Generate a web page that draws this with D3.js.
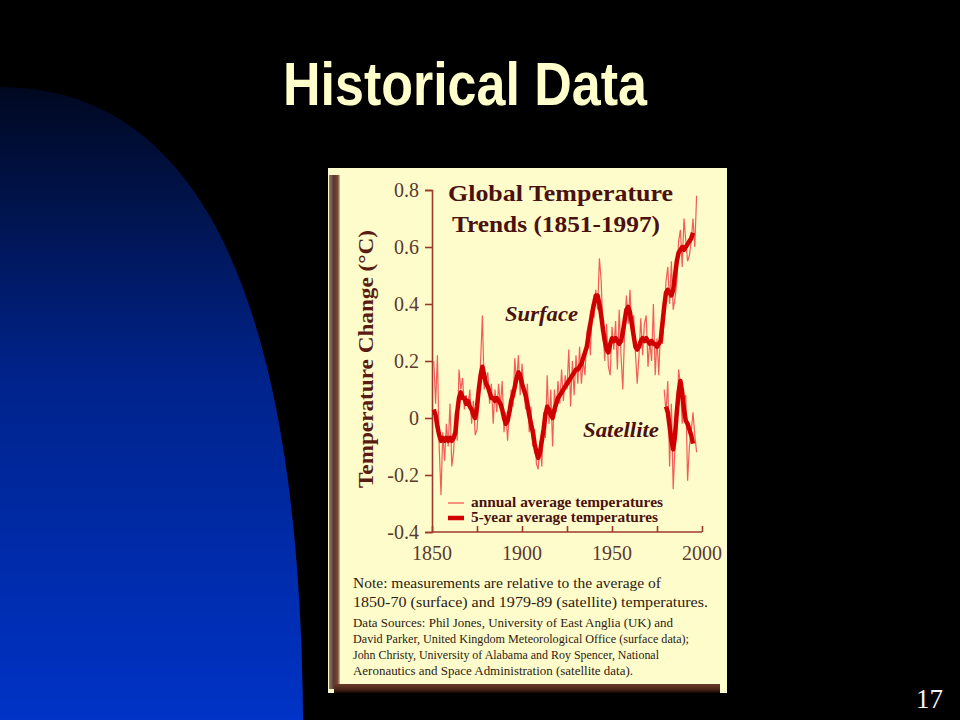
<!DOCTYPE html>
<html>
<head>
<meta charset="utf-8">
<script src="https://cdn.jsdelivr.net/npm/d3@7"></script>
<style>
  html, body { margin: 0; padding: 0; background: #000; }
  svg { display: block; }
</style>
</head>
<body>
<svg id="slide" width="960" height="720"></svg>
<script>
// ---------------- DATA ----------------
const slideTitle = "Historical Data";
const chartTitleLines = ["Global Temperature", "Trends (1851-1997)"];
const yAxisLabel = "Temperature Change (\u00B0C)";
const yTicks = [-0.4, -0.2, 0, 0.2, 0.4, 0.6, 0.8];
const yTickLabels = ["-0.4", "-0.2", "0", "0.2", "0.4", "0.6", "0.8"];
const xTicks = [1850, 1875, 1900, 1925, 1950, 1975, 2000];
const xTickLabels = ["1850", "1900", "1950", "2000"];
const xLabelYears = [1850, 1900, 1950, 2000];
const legendLabels = ["annual average temperatures", "5-year average temperatures"];
const seriesLabels = ["Surface", "Satellite"];
const noteLines = [
  "Note: measurements are relative to the average of",
  "1850-70 (surface) and 1979-89 (satellite) temperatures."
];
const sourceLines = [
  "Data Sources: Phil Jones, University of East Anglia (UK) and",
  "David Parker, United Kingdom Meteorological Office (surface data);",
  "John Christy, University of Alabama and Roy Spencer, National",
  "Aeronautics and Space Administration (satellite data)."
];
const pageNumber = "17";

// Surface, annual average (1851-1997)
const surfaceAnnualYears = d3.range(1851, 1998);
const surfaceAnnual = [
  0.20, 0.05, 0.22, -0.10, -0.27, -0.05, -0.15, -0.02, -0.10, 0.05,   // 1851-1860
  -0.17, -0.12, 0.02, -0.08, 0.17, 0.10, 0.14, 0.03, 0.08, 0.04,      // 1861-1870
  0.10, -0.02, 0.06, -0.06, -0.04, 0.05, 0.20, 0.36, 0.10, 0.13,      // 1871-1880
  0.16, 0.05, 0.12, -0.02, 0.10, 0.02, 0.12, 0.04, 0.13, -0.05,       // 1881-1890
  0.02, -0.08, 0.03, 0.10, 0.04, 0.21, 0.12, 0.22, 0.08, 0.19,        // 1891-1900
  0.10, 0.03, 0.12, -0.05, 0.04, -0.10, -0.04, -0.16, -0.18, -0.08,   // 1901-1910
  -0.17, 0.02, -0.07, 0.15, -0.02, 0.10, -0.10, 0.10, 0.02, 0.13,     // 1911-1920
  0.05, 0.17, 0.06, 0.15, 0.10, 0.24, 0.04, 0.20, 0.08, 0.22,         // 1921-1930
  0.12, 0.25, 0.12, 0.20, 0.15, 0.30, 0.33, 0.22, 0.40, 0.35,         // 1931-1940
  0.45, 0.38, 0.56, 0.48, 0.30, 0.20, 0.33, 0.18, 0.15, 0.32,         // 1941-1950
  0.24, 0.34, 0.17, 0.38, 0.22, 0.10, 0.30, 0.43, 0.33, 0.45,         // 1951-1960
  0.30, 0.36, 0.23, 0.12, 0.22, 0.35, 0.22, 0.33, 0.36, 0.18,         // 1961-1970
  0.27, 0.20, 0.40, 0.15, 0.28, 0.15, 0.33, 0.26, 0.35, 0.48,         // 1971-1980
  0.53, 0.40, 0.55, 0.38, 0.42, 0.48, 0.62, 0.66, 0.53, 0.70,         // 1981-1990
  0.62, 0.55, 0.57, 0.62, 0.70, 0.60, 0.78                            // 1991-1997
];

// Surface, 5-year average (1851-1995)
const surfaceSmoothYears = d3.range(1851, 1996);
const surfaceSmooth = [
  0.03, 0.01, -0.03, -0.06, -0.08, -0.07, -0.08, -0.07, -0.08, -0.07, // 1851-1860
  -0.08, -0.07, -0.05, 0.02, 0.07, 0.09, 0.07, 0.07, 0.05, 0.06,      // 1861-1870
  0.04, 0.03, 0.01, 0.00, 0.04, 0.10, 0.15, 0.18, 0.15, 0.12,         // 1871-1880
  0.11, 0.09, 0.07, 0.07, 0.06, 0.07, 0.06, 0.05, 0.03, 0.00,         // 1881-1890
  -0.02, -0.01, 0.02, 0.06, 0.08, 0.11, 0.14, 0.16, 0.15, 0.12,       // 1891-1900
  0.10, 0.08, 0.05, 0.01, -0.02, -0.05, -0.09, -0.12, -0.14, -0.12,   // 1901-1910
  -0.08, -0.04, 0.01, 0.04, 0.03, 0.01, 0.00, 0.03, 0.05, 0.07,       // 1911-1920
  0.08, 0.09, 0.10, 0.11, 0.12, 0.13, 0.14, 0.15, 0.16, 0.17,         // 1921-1930
  0.17, 0.18, 0.19, 0.21, 0.23, 0.25, 0.29, 0.33, 0.37, 0.40,         // 1931-1940
  0.43, 0.43, 0.40, 0.36, 0.31, 0.27, 0.24, 0.23, 0.26, 0.28,         // 1941-1950
  0.27, 0.28, 0.27, 0.26, 0.27, 0.30, 0.34, 0.38, 0.39, 0.37,         // 1951-1960
  0.33, 0.29, 0.25, 0.24, 0.25, 0.27, 0.28, 0.27, 0.28, 0.27,         // 1961-1970
  0.26, 0.27, 0.26, 0.26, 0.25, 0.26, 0.27, 0.33, 0.39, 0.44,         // 1971-1980
  0.45, 0.44, 0.43, 0.45, 0.50, 0.55, 0.58, 0.59, 0.60, 0.59,         // 1981-1990
  0.60, 0.61, 0.62, 0.63, 0.65                                        // 1991-1995
];

// Satellite, annual average (1979-1997)
const satelliteAnnualYears = d3.range(1979, 1998);
const satelliteAnnual = [
  0.10, 0.02, 0.13, -0.17, 0.05, -0.25, -0.10, -0.05, 0.17, 0.12,
  -0.02, 0.06, 0.08, -0.22, -0.10, -0.05, 0.02, -0.06, -0.12
];

// Satellite, 5-year average (1980-1995)
const satelliteSmoothYears = d3.range(1980, 1996);
const satelliteSmooth = [
  0.04, 0.02, -0.03, -0.08, -0.11, -0.06, 0.02, 0.09, 0.13, 0.09,
  0.03, -0.01, -0.02, -0.04, -0.06, -0.09
];

// ---------------- DRAWING ----------------
const svg = d3.select("#slide");
const defs = svg.append("defs");

// background
svg.append("rect").attr("width", 960).attr("height", 720).attr("fill", "#000");

// blue arc shape
const blueGrad = defs.append("linearGradient").attr("id", "blueGrad")
  .attr("x1", 0).attr("y1", 0).attr("x2", 0).attr("y2", 1);
blueGrad.append("stop").attr("offset", "0%").attr("stop-color", "#000820");
blueGrad.append("stop").attr("offset", "45%").attr("stop-color", "#00238a");
blueGrad.append("stop").attr("offset", "100%").attr("stop-color", "#0033c6");
svg.append("path")
  .attr("d", "M0,87 C200,87 300,300 303,720 L0,720 Z")
  .attr("fill", "url(#blueGrad)");

// title
svg.append("text")
  .attr("x", 283).attr("y", 105)
  .attr("textLength", 364).attr("lengthAdjust", "spacingAndGlyphs")
  .attr("font-family", "'Liberation Sans', Arial, sans-serif")
  .attr("font-weight", "bold").attr("font-size", 61)
  .attr("fill", "#ffffcc")
  .text(slideTitle);

// page number
svg.append("text")
  .attr("x", 943).attr("y", 708).attr("text-anchor", "end")
  .attr("font-family", "'Liberation Serif', 'Times New Roman', serif")
  .attr("font-size", 27).attr("fill", "#f4f4f4")
  .text(pageNumber);

// ---- chart panel ----
const leftShadow = defs.append("linearGradient").attr("id", "leftShadow")
  .attr("x1", 0).attr("y1", 0).attr("x2", 1).attr("y2", 0);
leftShadow.append("stop").attr("offset", "0%").attr("stop-color", "#8a8078");
leftShadow.append("stop").attr("offset", "45%").attr("stop-color", "#5b3428");
leftShadow.append("stop").attr("offset", "80%").attr("stop-color", "#7a4a3a");
leftShadow.append("stop").attr("offset", "100%").attr("stop-color", "#d8c8a0");
const bottomShadow = defs.append("linearGradient").attr("id", "bottomShadow")
  .attr("x1", 0).attr("y1", 0).attr("x2", 0).attr("y2", 1);
bottomShadow.append("stop").attr("offset", "0%").attr("stop-color", "#6a3a2a");
bottomShadow.append("stop").attr("offset", "60%").attr("stop-color", "#4a2418");
bottomShadow.append("stop").attr("offset", "100%").attr("stop-color", "#120604");

svg.append("rect").attr("x", 328).attr("y", 168).attr("width", 399).attr("height", 527)
  .attr("fill", "#fdfcca");
svg.append("rect").attr("x", 329).attr("y", 175).attr("width", 11).attr("height", 514)
  .attr("fill", "url(#leftShadow)");
svg.append("rect").attr("x", 334).attr("y", 684).attr("width", 386).attr("height", 9)
  .attr("fill", "url(#bottomShadow)");
svg.append("rect").attr("x", 328).attr("y", 693).attr("width", 400).attr("height", 3)
  .attr("fill", "#000");

// scales
const x = d3.scaleLinear().domain([1850, 2000]).range([432, 702]);
const y = d3.scaleLinear().domain([-0.4, 0.8]).range([532, 190]);

const axisColor = "#9b3a2c";
const labelColor = "#5a3a30";
const darkText = "#4b1010";
const serif = "'Liberation Serif', 'Times New Roman', Times, serif";

// y axis
const yAxis = d3.axisLeft(y).tickValues(yTicks).tickSize(7)
  .tickFormat((d, i) => yTickLabels[i]);
const gy = svg.append("g").attr("transform", "translate(432,0)").call(yAxis);
gy.select(".domain").attr("stroke", axisColor).attr("stroke-width", 1.6);
gy.selectAll(".tick line").attr("stroke", axisColor).attr("stroke-width", 1.6);
gy.selectAll(".tick text").attr("x", -13).attr("dy", "0.34em")
  .attr("font-family", serif).attr("font-size", 20).attr("fill", labelColor);

// x axis (ticks point upward)
const xAxis = d3.axisTop(x).tickValues(xTicks).tickSize(6).tickFormat("");
const gx = svg.append("g").attr("transform", "translate(0,532)").call(xAxis);
gx.select(".domain").attr("stroke", axisColor).attr("stroke-width", 1.6)
  .attr("d", "M432,0H702");
gx.selectAll(".tick line").attr("stroke", axisColor).attr("stroke-width", 1.6);
svg.append("g").selectAll("text").data(xLabelYears).join("text")
  .attr("x", d => x(d)).attr("y", 560).attr("text-anchor", "middle")
  .attr("font-family", serif).attr("font-size", 20).attr("fill", labelColor)
  .text((d, i) => xTickLabels[i]);

// y axis label
svg.append("text")
  .attr("transform", "translate(373,359) rotate(-90)")
  .attr("text-anchor", "middle")
  .attr("textLength", 258).attr("lengthAdjust", "spacingAndGlyphs")
  .attr("font-family", serif).attr("font-weight", "bold").attr("font-size", 22)
  .attr("fill", "#5a1c12")
  .text(yAxisLabel);

// chart title
svg.append("text").attr("x", 448).attr("y", 201)
  .attr("textLength", 225).attr("lengthAdjust", "spacingAndGlyphs")
  .attr("font-family", serif).attr("font-weight", "bold").attr("font-size", 23)
  .attr("fill", darkText).text(chartTitleLines[0]);
svg.append("text").attr("x", 452).attr("y", 232)
  .attr("textLength", 208).attr("lengthAdjust", "spacingAndGlyphs")
  .attr("font-family", serif).attr("font-weight", "bold").attr("font-size", 23)
  .attr("fill", darkText).text(chartTitleLines[1]);

// lines
const line = d3.line().x(d => x(d[0])).y(d => y(d[1]));
const annualColor = "#f24a4a";
const smoothColor = "#d00000";

function pairs(years, vals) { return years.map((yr, i) => [yr, vals[i]]); }

svg.append("path").datum(pairs(surfaceAnnualYears, surfaceAnnual))
  .attr("d", line).attr("fill", "none")
  .attr("stroke", annualColor).attr("stroke-width", 1.2).attr("stroke-opacity", 0.9);
svg.append("path").datum(pairs(satelliteAnnualYears, satelliteAnnual))
  .attr("d", line).attr("fill", "none")
  .attr("stroke", annualColor).attr("stroke-width", 1.2).attr("stroke-opacity", 0.9);
svg.append("path").datum(pairs(surfaceSmoothYears, surfaceSmooth))
  .attr("d", line).attr("fill", "none")
  .attr("stroke", smoothColor).attr("stroke-width", 4.5).attr("stroke-linejoin", "round");
svg.append("path").datum(pairs(satelliteSmoothYears, satelliteSmooth))
  .attr("d", line).attr("fill", "none")
  .attr("stroke", smoothColor).attr("stroke-width", 4.5).attr("stroke-linejoin", "round");

// series labels
svg.append("text").attr("x", 505).attr("y", 321)
  .attr("textLength", 73).attr("lengthAdjust", "spacingAndGlyphs")
  .attr("font-family", serif).attr("font-weight", "bold").attr("font-style", "italic")
  .attr("font-size", 21).attr("fill", darkText).text(seriesLabels[0]);
svg.append("text").attr("x", 583).attr("y", 437)
  .attr("textLength", 76).attr("lengthAdjust", "spacingAndGlyphs")
  .attr("font-family", serif).attr("font-weight", "bold").attr("font-style", "italic")
  .attr("font-size", 21).attr("fill", darkText).text(seriesLabels[1]);

// legend
svg.append("line").attr("x1", 448).attr("x2", 464).attr("y1", 503).attr("y2", 503)
  .attr("stroke", annualColor).attr("stroke-width", 1.2);
svg.append("line").attr("x1", 448).attr("x2", 464).attr("y1", 518).attr("y2", 518)
  .attr("stroke", smoothColor).attr("stroke-width", 4.5);
svg.append("text").attr("x", 471).attr("y", 507)
  .attr("textLength", 192).attr("lengthAdjust", "spacingAndGlyphs")
  .attr("font-family", serif).attr("font-weight", "bold").attr("font-size", 15)
  .attr("fill", darkText).text(legendLabels[0]);
svg.append("text").attr("x", 471).attr("y", 522)
  .attr("textLength", 187).attr("lengthAdjust", "spacingAndGlyphs")
  .attr("font-family", serif).attr("font-weight", "bold").attr("font-size", 15)
  .attr("fill", darkText).text(legendLabels[1]);

// notes
const noteWidths = [308, 355];
noteLines.forEach((t, i) => {
  svg.append("text").attr("x", 353).attr("y", 588 + i * 19)
    .attr("textLength", noteWidths[i]).attr("lengthAdjust", "spacingAndGlyphs")
    .attr("font-family", serif).attr("font-size", 15).attr("fill", "#2e1a12").text(t);
});
const sourceWidths = [320, 336, 306, 280];
sourceLines.forEach((t, i) => {
  svg.append("text").attr("x", 353).attr("y", 627 + i * 16)
    .attr("textLength", sourceWidths[i]).attr("lengthAdjust", "spacingAndGlyphs")
    .attr("font-family", serif).attr("font-size", 12.5).attr("fill", "#2e1a12").text(t);
});
</script>
</body>
</html>
